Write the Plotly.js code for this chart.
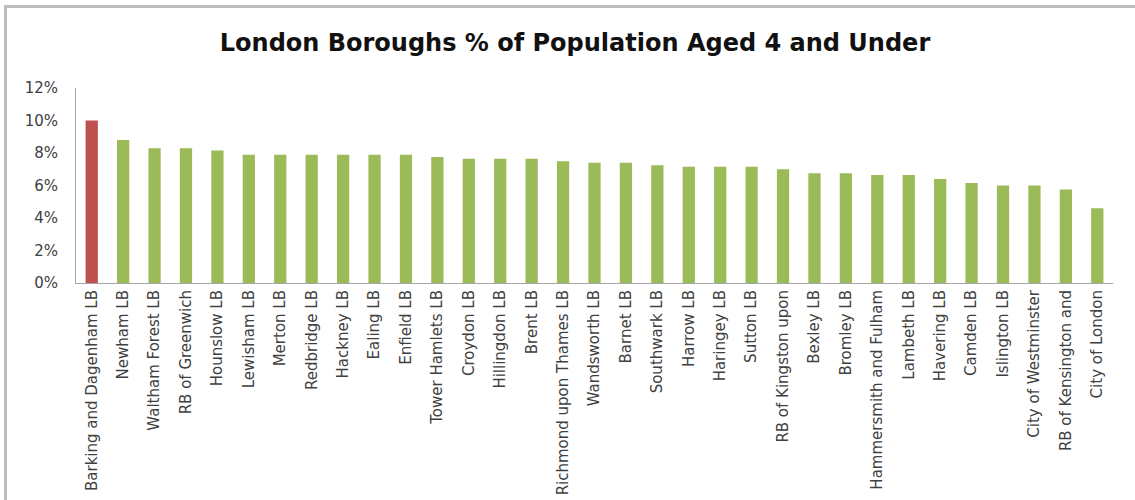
<!DOCTYPE html>
<html>
<head>
<meta charset="utf-8">
<script src="https://cdn.plot.ly/plotly-3.0.1.min.js"></script>
<style>
  html, body { margin: 0; padding: 0; background: #fff; }
  #wrap { position: relative; width: 1135px; height: 500px; overflow: hidden; }
  #chart { position: absolute; left: 0; top: 0; width: 1135px; height: 500px; }
  #frame { position: absolute; left: 4px; top: 5px; width: 1300px; height: 700px;
           border-left: 3px solid #bdbdbd; border-top: 3px solid #bdbdbd; pointer-events: none; }
</style>
</head>
<body>
<div id="wrap">
  <div id="chart"></div>
  <div id="frame"></div>
</div>
<script>
const boroughs = [
  "Barking and Dagenham LB", "Newham LB", "Waltham Forest LB", "RB of Greenwich",
  "Hounslow LB", "Lewisham LB", "Merton LB", "Redbridge LB", "Hackney LB", "Ealing LB",
  "Enfield LB", "Tower Hamlets LB", "Croydon LB", "Hillingdon LB", "Brent LB",
  "Richmond upon Thames LB", "Wandsworth LB", "Barnet LB", "Southwark LB", "Harrow LB",
  "Haringey LB", "Sutton LB", "RB of Kingston upon", "Bexley LB", "Bromley LB",
  "Hammersmith and Fulham", "Lambeth LB", "Havering LB", "Camden LB", "Islington LB",
  "City of Westminster", "RB of Kensington and", "City of London"
];
const pctAged4Under = [
  10.0, 8.8, 8.3, 8.3,
  8.15, 7.9, 7.9, 7.9, 7.9, 7.9,
  7.9, 7.75, 7.65, 7.65, 7.65,
  7.5, 7.4, 7.4, 7.25, 7.15,
  7.15, 7.15, 7.0, 6.75, 6.75,
  6.65, 6.65, 6.4, 6.15, 6.0,
  6.0, 5.75, 4.6
];
const highlighted = ["Barking and Dagenham LB"];
const yTickVals = [0, 0.02, 0.04, 0.06, 0.08, 0.10, 0.12];

const barColors = boroughs.map(b => highlighted.includes(b) ? "#c0504d" : "#9bbb59");

const trace = {
  type: "bar",
  x: boroughs,
  y: pctAged4Under.map(v => v / 100),
  marker: { color: barColors, line: { width: 0 } },
  hoverinfo: "x+y"
};

const layout = {
  width: 1135,
  height: 500,
  margin: { l: 76, r: 22, t: 88, b: 216.5 },
  paper_bgcolor: "#ffffff",
  plot_bgcolor: "#ffffff",
  showlegend: false,
  bargap: 0.61,
  font: { family: "DejaVu Sans, Arial, sans-serif", color: "#404040" },
  title: {
    text: "London Boroughs % of Population Aged 4 and Under",
    font: { family: "DejaVu Sans, Arial, sans-serif", size: 24, color: "#111111", weight: "bold" },
    x: 575 / 1135, xref: "container", xanchor: "center",
    y: 1 - 43 / 500, yref: "container", yanchor: "middle"
  },
  xaxis: {
    type: "category",
    tickangle: -90,
    tickfont: { size: 15, color: "#404040" },
    showline: true, linecolor: "#a6a6a6", linewidth: 1,
    showgrid: false, zeroline: false, ticks: "",
    automargin: false
  },
  yaxis: {
    range: [0, 0.12],
    tickvals: yTickVals,
    tickformat: ".0%",
    tickfont: { size: 15, color: "#404040" },
    showline: true, linecolor: "#a6a6a6", linewidth: 1,
    showgrid: false, zeroline: false, ticks: "",
    ticklabelstandoff: 14,
    automargin: false
  }
};

Plotly.newPlot("chart", [trace], layout, { displayModeBar: false, staticPlot: true });
</script>
</body>
</html>
